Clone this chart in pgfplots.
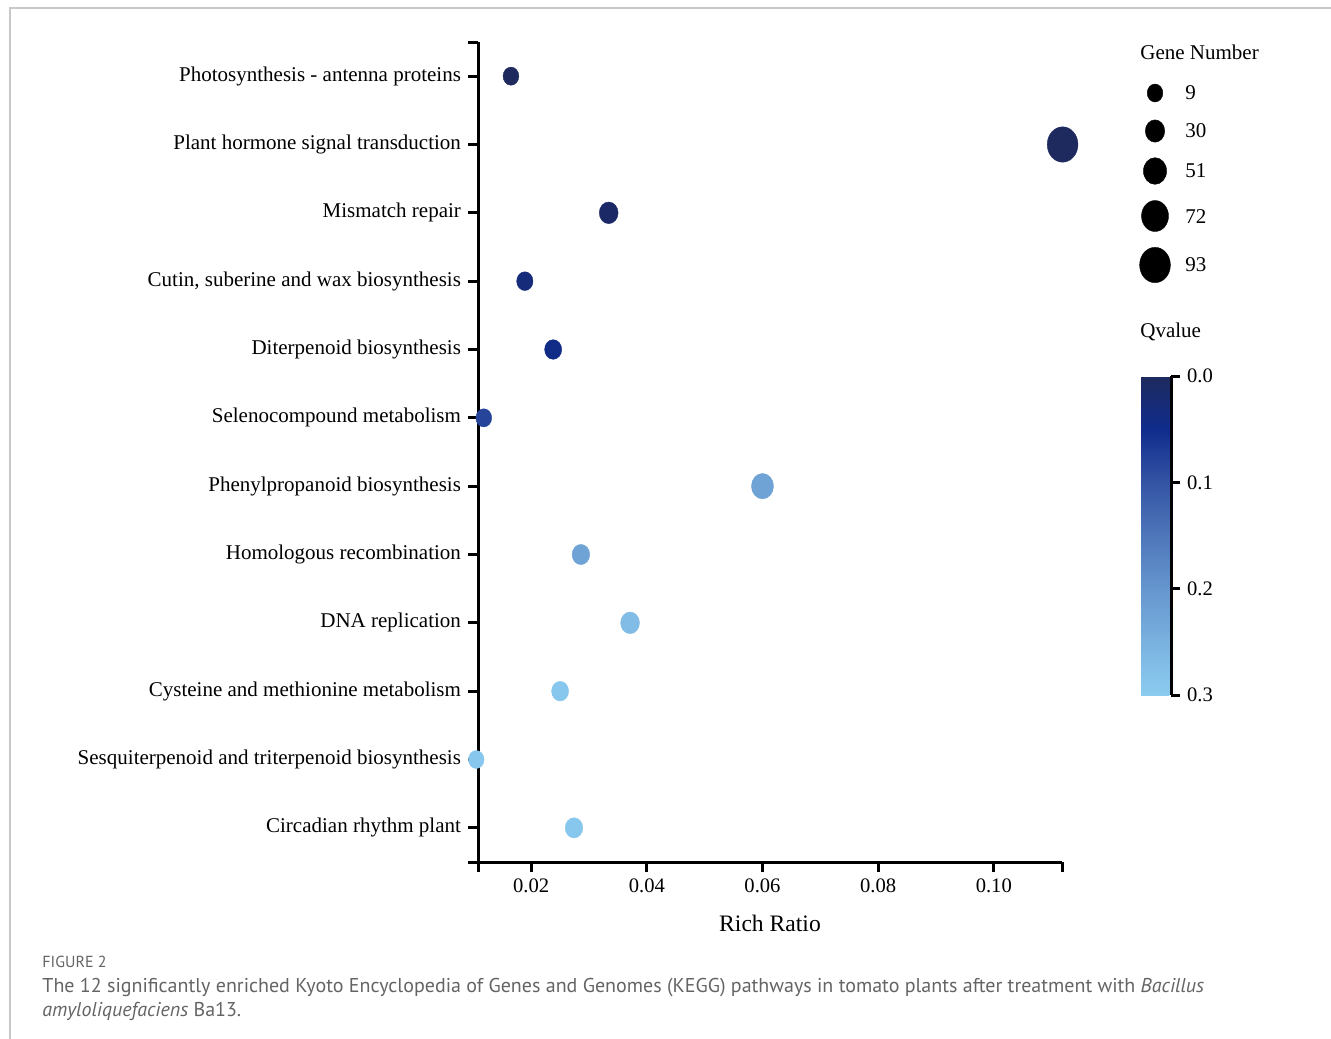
\documentclass[border=0pt]{standalone}
\usepackage{pgfplots}
\pgfplotsset{compat=1.18}
\usepackage{pgfplotstable}
\usepackage{fontspec}
\setmainfont{Liberation Serif}
\newfontfamily\capfont{PT Sans}
\definecolor{capgray}{RGB}{100,100,100}
\definecolor{framegray}{RGB}{200,200,200}

% y: 12 = top row
\pgfplotstableread{
y x n q
12 0.0165 10 0.000
11 0.1119 93 0.000
10 0.0334 27 0.010
9 0.0189 13 0.030
8 0.0238 17 0.045
7 0.0118 10 0.080
6 0.0600 45 0.225
5 0.0286 20 0.225
4 0.0371 27 0.270
3 0.0250 17 0.290
2 0.0105 9 0.290
1 0.0274 20 0.290
}\datatable

\pgfplotstableread{
py n
93 9
131 30
171 51
216 72
265 93
}\legtable

\pgfplotsset{colormap={qv}{rgb255=(30,42,94) rgb255=(16,44,140) rgb255=(52,84,164) rgb255=(78,118,186) rgb255=(102,150,206) rgb255=(121,177,223) rgb255=(140,204,240)}}

\begin{document}
\begin{tikzpicture}
\path[use as bounding box] (0,0) rectangle (665.5pt,-519pt);
\begin{axis}[
  at={(239pt,-431pt)}, anchor=south west,
  scale only axis, width=292pt, height=410pt,
  xmin=0.0108, xmax=0.1118, ymin=0.5, ymax=12.5,
  axis x line*=bottom, axis y line*=left,
  axis line style={line width=1.5pt, -},
  every tick/.style={line width=1.5pt, black},
  major tick length=5pt, tick align=outside,
  xtick={0.02,0.04,0.06,0.08,0.10},
  extra x ticks={0.0108,0.1118}, extra x tick labels={},
  ytick={1,...,12},
  extra y ticks={0.5,12.5}, extra y tick labels={},
  yticklabels={Circadian rhythm plant, Sesquiterpenoid and triterpenoid biosynthesis, Cysteine and methionine metabolism, DNA replication, Homologous recombination, Phenylpropanoid biosynthesis, Selenocompound metabolism, Diterpenoid biosynthesis, {Cutin, suberine and wax biosynthesis}, Mismatch repair, Plant hormone signal transduction, Photosynthesis - antenna proteins},
  yticklabel style={font=\fontsize{10.5}{12}\selectfont},
  xticklabel style={font=\fontsize{10.3}{12}\selectfont, /pgf/number format/.cd, fixed, fixed zerofill, precision=2, assume math mode=true},
  scaled x ticks=false,
  xlabel={Rich Ratio},
  xlabel style={font=\fontsize{11.8}{14}\selectfont, yshift=6pt},
  clip=false, axis on top,
  colormap name=qv, point meta min=0, point meta max=0.3,
  colorbar,
  colorbar style={
    xshift=23pt, yshift=-167pt,
    width=15pt, height=159.5pt,
    y dir=reverse,
    axis x line=none, axis y line*=right,
    axis line style={line width=1.5pt, -},
    every tick/.style={line width=1.5pt, black},
    major tick length=4.5pt, tick align=outside,
    ytick={0,0.1,0.2,0.3},
    yticklabel pos=right,
    yticklabel style={font=\fontsize{10.3}{12}\selectfont, /pgf/number format/.cd, fixed, fixed zerofill, precision=1, assume math mode=true},
  },
]
\addplot[scatter, only marks, mark=*, scatter src=explicit,
  scatter/use mapped color={draw=mapped color, fill=mapped color},
  visualization depends on={\thisrow{n} \as \gn},
  scatter/@pre marker code/.append style={/tikz/mark size={3.5+0.045*\gn}},
  mark options={yscale=1.15, line width=0.2pt}]
  table[x=x, y=y, meta=q] {\datatable};
\end{axis}

\begin{axis}[
  at={(0pt,-519pt)}, anchor=south west,
  scale only axis, width=665.5pt, height=519pt,
  xmin=0, xmax=1331, ymin=0, ymax=1038, y dir=reverse,
  hide axis, clip=false]
\addplot[scatter, only marks, mark=*,
  scatter/use mapped color={draw=black, fill=black},
  visualization depends on={\thisrow{n} \as \gn},
  scatter/@pre marker code/.append style={/tikz/mark size={3.5+0.045*\gn}},
  mark options={yscale=1.15, line width=0.2pt}]
  table[x expr=1155, y=py] {\legtable};
\node[anchor=west, inner sep=0pt, font=\fontsize{10.5}{12}\selectfont] at (axis cs:1140,52) {Gene Number};
\node[anchor=west, inner sep=0pt, font=\fontsize{10.5}{12}\selectfont] at (axis cs:1185,93) {9};
\node[anchor=west, inner sep=0pt, font=\fontsize{10.5}{12}\selectfont] at (axis cs:1185,131) {30};
\node[anchor=west, inner sep=0pt, font=\fontsize{10.5}{12}\selectfont] at (axis cs:1185,171) {51};
\node[anchor=west, inner sep=0pt, font=\fontsize{10.5}{12}\selectfont] at (axis cs:1185,217) {72};
\node[anchor=west, inner sep=0pt, font=\fontsize{10.5}{12}\selectfont] at (axis cs:1185,265) {93};
\node[anchor=west, inner sep=0pt, font=\fontsize{10.5}{12}\selectfont] at (axis cs:1140,332) {Qvalue};
\draw[framegray, line width=0.7pt] (axis cs:10,1040) -- (axis cs:10,8) -- (axis cs:1335,8);
\node[anchor=west, inner sep=0pt, text=capgray, font=\capfont\fontsize{8}{9}\selectfont] at (axis cs:42,962) {FIGURE 2};
\node[anchor=west, inner sep=0pt, text=capgray, font=\capfont\fontsize{10}{12}\selectfont] at (axis cs:42,988) {The 12 significantly enriched Kyoto Encyclopedia of Genes and Genomes (KEGG) pathways in tomato plants after treatment with \textit{Bacillus}};
\node[anchor=west, inner sep=0pt, text=capgray, font=\capfont\fontsize{10}{12}\selectfont] at (axis cs:42,1011) {\textit{amyloliquefaciens} Ba13.};
\end{axis}
\end{tikzpicture}
\end{document}
